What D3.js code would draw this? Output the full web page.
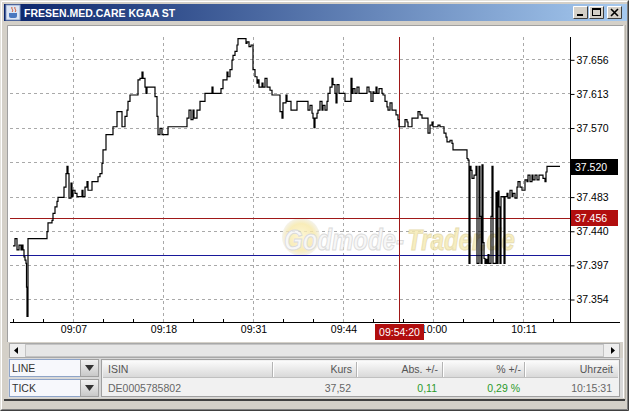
<!DOCTYPE html>
<html><head><meta charset="utf-8">
<script src="https://cdn.jsdelivr.net/npm/d3@7"></script>
<style>
html,body{margin:0;padding:0;background:#d4d0c8;overflow:hidden}
svg{display:block}
text{font-family:"Liberation Sans",Arial,sans-serif}
</style></head><body>
<svg id="c" width="629" height="411"></svg>
<script>
const title = "FRESEN.MED.CARE KGAA ST";
// tick-chart: x is the trade index, y the price
const tickIndex = [3,5,7,9,11,12,13,14,15,16,16.5,17,18,37,38,42,43,45,47,48,54,56,57,58,59,61,62,63,65,67,72,73,75,77,78,82,88,90,92,93,96,103,107,112,115,117,118,120,128,130,132,133,135,136,137,145,147,148,150,152,158,177,179,181,183,184,187,190,195,202,203,211,213,217,218,220,222,223,225,227,228,236,237,239,241,243,245,247,248,249,252,253,255,257,260,262,270,272,273,276,277,281,287,298,300,302,303,304,305,307,308,310,312,313,315,317,318,320,322,323,325,326,327,329,335,341,342,343,345,347,349,357,359,361,363,364,366,367,369,372,373,375,377,378,380,382,386,388,389,395,397,398,402,408,410,412,418,420,422,423,428,430,434,436,437,440,442,443,457,458,459,460,461,462,464,466,467,469,470,471,472,473,474,475,476,477,478,479,481,482,483,486,487,488,489,490,491,493,494,495,497,498,500,502,503,505,507,508,510,512,515,517,518,520,522,523,525,527,529,533,535,536,537,550];
const tickPrice = [37.421,37.430,37.416,37.422,37.416,37.422,37.416,37.407,37.403,37.399,37.369,37.332,37.430,37.439,37.450,37.453,37.462,37.470,37.477,37.482,37.495,37.512,37.521,37.512,37.481,37.500,37.483,37.491,37.487,37.483,37.491,37.483,37.495,37.502,37.491,37.502,37.508,37.512,37.525,37.542,37.561,37.571,37.590,37.571,37.584,37.592,37.603,37.611,37.630,37.632,37.640,37.632,37.621,37.613,37.621,37.609,37.584,37.561,37.569,37.561,37.571,37.582,37.592,37.580,37.592,37.582,37.592,37.603,37.613,37.621,37.613,37.619,37.630,37.640,37.634,37.643,37.655,37.661,37.666,37.674,37.682,37.676,37.678,37.672,37.674,37.643,37.634,37.626,37.630,37.621,37.626,37.621,37.632,37.621,37.617,37.611,37.590,37.582,37.601,37.611,37.603,37.592,37.603,37.592,37.598,37.588,37.582,37.570,37.582,37.588,37.592,37.603,37.592,37.598,37.592,37.603,37.613,37.621,37.632,37.624,37.613,37.601,37.624,37.613,37.603,37.632,37.613,37.619,37.613,37.621,37.613,37.621,37.615,37.603,37.615,37.613,37.621,37.613,37.619,37.613,37.611,37.603,37.596,37.592,37.601,37.592,37.586,37.580,37.571,37.580,37.577,37.571,37.582,37.590,37.586,37.582,37.563,37.573,37.577,37.571,37.573,37.571,37.563,37.558,37.552,37.554,37.550,37.542,37.531,37.529,37.399,37.521,37.516,37.506,37.510,37.521,37.399,37.521,37.458,37.399,37.523,37.425,37.405,37.399,37.404,37.399,37.410,37.399,37.458,37.521,37.399,37.488,37.399,37.490,37.470,37.399,37.483,37.483,37.399,37.483,37.487,37.481,37.491,37.483,37.487,37.481,37.495,37.502,37.495,37.491,37.504,37.502,37.510,37.502,37.510,37.504,37.510,37.504,37.510,37.506,37.502,37.514,37.521,37.521];
const yTickValues = [37.354,37.397,37.440,37.483,37.526,37.570,37.613,37.656];
const yTickLabels = ["37.354","37.397","37.440","37.483","37.526","37.570","37.613","37.656"];
const xTickIndex = [63,153,243,333,423,513];
const xTickLabels = ["09:07","09:18","09:31","09:44","10:00","10:11"];
const lastPrice = 37.520;
const lastPriceLabel = "37.520";
const markerLevel = 37.456;
const markerLabel = "37.456";
const prevClose = 37.410;
const cursorIndex = 389;
const cursorTime = "09:54:20";
const watermarkParts = ["Godmode-","Trader.de"];
const modeOptions = ["LINE","TICK"];
const tableHeaders = ["ISIN","Kurs","Abs. +/-","% +/-","Uhrzeit"];
const tableRow = ["DE0005785802","37,52","0,11","0,29 %","10:15:31"];

const svg = d3.select("#c");
const defs = svg.append("defs");
const tg = defs.append("linearGradient").attr("id","tb");
tg.append("stop").attr("offset","0").attr("stop-color","#0a246a");
tg.append("stop").attr("offset","1").attr("stop-color","#a6caf0");
const hg = defs.append("linearGradient").attr("id","hd").attr("x1",0).attr("y1",0).attr("x2",0).attr("y2",1);
hg.append("stop").attr("offset","0").attr("stop-color","#fbfbfb");
hg.append("stop").attr("offset","1").attr("stop-color","#d9d9d9");
const bg = defs.append("linearGradient").attr("id","btn").attr("x1",0).attr("y1",0).attr("x2",0).attr("y2",1);
bg.append("stop").attr("offset","0").attr("stop-color","#f2f2f2");
bg.append("stop").attr("offset","1").attr("stop-color","#c8c8c8");
const wg = defs.append("radialGradient").attr("id","wm");
wg.append("stop").attr("offset","0").attr("stop-color","#fff6cc");
wg.append("stop").attr("offset","0.7").attr("stop-color","#f7e8a8");
wg.append("stop").attr("offset","1").attr("stop-color","#f2f0e6");

// window frame
svg.append("rect").attr("x",0).attr("y",0).attr("width",629).attr("height",411).attr("fill","#d4d0c8");
svg.append("path").attr("d","M0.5,410.5V0.5H628.5").attr("fill","none").attr("stroke","#e4e2dc");
svg.append("path").attr("d","M1.5,409.5V1.5H627.5").attr("fill","none").attr("stroke","#ffffff");
svg.append("path").attr("d","M628.5,0.5V410.5H0.5").attr("fill","none").attr("stroke","#404040");
svg.append("path").attr("d","M627.5,1.5V409.5H1.5").attr("fill","none").attr("stroke","#808080");

// title bar
svg.append("rect").attr("x",4).attr("y",4).attr("width",623).attr("height",17).attr("fill","url(#tb)");
const ic = svg.append("g");
ic.append("rect").attr("x",6).attr("y",5).attr("width",14).attr("height",15).attr("fill","#dde6f4").attr("stroke","#8aa0c8");
ic.append("path").attr("d","M9,13h8v3a2,2 0 0 1 -2,2h-4a2,2 0 0 1 -2,-2z").attr("fill","#4a78c0");
ic.append("path").attr("d","M12,7c-1,2 2,3 0,5M15,7c-1,2 2,3 0,5").attr("fill","none").attr("stroke","#d04a20").attr("stroke-width",1);
svg.append("text").attr("x",24).attr("y",17).attr("fill","#ffffff").attr("font-weight","bold").attr("font-size","10.5px").text(title);
const btnX = [573,589,607];
btnX.forEach((bx,i)=>{
  const g = svg.append("g");
  g.append("rect").attr("x",bx).attr("y",6).attr("width",15).attr("height",13).attr("fill","#d4d0c8");
  g.append("path").attr("d",`M${bx+0.5},${18.5}V6.5H${bx+14.5}`).attr("fill","none").attr("stroke","#ffffff");
  g.append("path").attr("d",`M${bx+14.5},6.5V18.5H${bx+0.5}`).attr("fill","none").attr("stroke","#404040");
  if(i===0) g.append("rect").attr("x",bx+4).attr("y",14).attr("width",6).attr("height",2).attr("fill","#000");
  if(i===1){ g.append("rect").attr("x",bx+3.5).attr("y",8.5).attr("width",8).attr("height",7).attr("fill","none").attr("stroke","#000");
             g.append("rect").attr("x",bx+3).attr("y",8).attr("width",9).attr("height",2).attr("fill","#000"); }
  if(i===2) g.append("path").attr("d",`M${bx+4},9L${bx+11},16M${bx+11},9L${bx+4},16`).attr("stroke","#000").attr("stroke-width",1.6);
});

// client area
svg.append("rect").attr("x",8).attr("y",26).attr("width",615).attr("height",316).attr("fill","#ffffff");
svg.append("path").attr("d","M7.5,342V25.5H623.5").attr("fill","none").attr("stroke","#a0a0a0");
svg.append("path").attr("d","M623.5,25.5V398").attr("fill","none").attr("stroke","#ffffff");
svg.append("path").attr("d","M625.5,25V400").attr("fill","none").attr("stroke","#b8b4ac");

// scales
const x = d3.scaleLinear().domain([0,560]).range([10,570]);
const y = d3.scaleLinear().domain([37.354,37.656]).range([299,59.3]);
const plotTop = 37, plotBottom = 322;

// grid
const grid = svg.append("g").attr("stroke","#a9a9a9").attr("stroke-dasharray","3,3").attr("stroke-width",1);
yTickValues.forEach(v=>{
  const yy = Math.round(y(v))+0.5;
  grid.append("line").attr("x1",10).attr("x2",570).attr("y1",yy).attr("y2",yy);
});
xTickIndex.forEach(v=>{
  const xx = Math.round(x(v))+0.5;
  grid.append("line").attr("x1",xx).attr("x2",xx).attr("y1",plotTop).attr("y2",plotBottom);
});

// watermark
const wm = svg.append("g").attr("opacity",0.8);
wm.append("circle").attr("cx",301).attr("cy",237).attr("r",19).attr("fill","url(#wm)");
const wmg = wm.append("g").attr("transform","translate(284,250) scale(0.8,1)");
const w1 = wmg.append("text").attr("x",0).attr("y",0).attr("font-size","30px").attr("font-weight","bold").attr("font-style","italic")
  .attr("stroke-width",1).attr("fill","#f6f6f6").attr("stroke","#d2d2d2").text(watermarkParts[0]);
const w1len = w1.node().getComputedTextLength();
wmg.append("text").attr("x",w1len+4).attr("y",0).attr("font-size","30px").attr("font-weight","bold").attr("font-style","italic")
  .attr("stroke-width",1).attr("fill","#f6eab0").attr("stroke","#e2d6a0").text(watermarkParts[1]);

// reference lines
svg.append("line").attr("x1",10).attr("x2",570).attr("y1",Math.round(y(markerLevel))+0.5).attr("y2",Math.round(y(markerLevel))+0.5).attr("stroke","#a01818");
svg.append("line").attr("x1",10).attr("x2",570).attr("y1",Math.round(y(prevClose))+0.5).attr("y2",Math.round(y(prevClose))+0.5).attr("stroke","#18189a");
svg.append("line").attr("x1",Math.round(x(cursorIndex))+0.5).attr("x2",Math.round(x(cursorIndex))+0.5).attr("y1",plotTop).attr("y2",plotBottom).attr("stroke","#a01818");

// price line
const data = tickIndex.map((t,i)=>({t, p:tickPrice[i]}));
const line = d3.line().x(d=>x(d.t)).y(d=>y(d.p)).curve(d3.curveStepAfter);
svg.append("path").datum(data).attr("d",line).attr("fill","none").attr("stroke","#000").attr("stroke-width",1.2);

// axes lines
svg.append("line").attr("x1",10).attr("x2",620).attr("y1",plotBottom+0.5).attr("y2",plotBottom+0.5).attr("stroke","#000");
svg.append("line").attr("x1",570.5).attr("x2",570.5).attr("y1",plotTop).attr("y2",plotBottom).attr("stroke","#000");

// minor ticks on x axis
const minor = d3.range(3,560,30).filter(v=>!xTickIndex.includes(v));
svg.append("g").selectAll("line").data(minor).join("line")
  .attr("x1",d=>Math.round(x(d))+0.5).attr("x2",d=>Math.round(x(d))+0.5)
  .attr("y1",plotBottom-3).attr("y2",plotBottom+1).attr("stroke","#000");

// y axis
const lastY = y(lastPrice);
const yAxis = d3.axisRight(y).tickValues(yTickValues).tickSize(4).tickPadding(2)
  .tickFormat((d,i)=>yTickLabels[i]);
const ya = svg.append("g").attr("transform","translate(570.5,0.5)").call(yAxis);
ya.select(".domain").remove();
ya.selectAll("text").attr("font-size","10.5px").attr("fill","#000").style("font-family","'Liberation Sans',Arial,sans-serif")
  .attr("display",d=>Math.abs(y(d)-lastY)<10?"none":null);

// x axis
const xAxis = d3.axisBottom(x).tickValues(xTickIndex).tickSize(0).tickPadding(4)
  .tickFormat((d,i)=>xTickLabels[i]);
const xa = svg.append("g").attr("transform","translate(0.5,322)").call(xAxis);
xa.select(".domain").remove();
xa.selectAll("text").attr("font-size","10.5px").attr("fill","#000").style("font-family","'Liberation Sans',Arial,sans-serif");

// value boxes
function box(cx0, cy, w, color, label, anchor){
  svg.append("rect").attr("x",cx0).attr("y",Math.round(cy)-8).attr("width",w).attr("height",16).attr("fill",color);
  svg.append("text").attr("x",anchor==="middle"?cx0+w/2:cx0+4).attr("y",Math.round(cy)+4)
    .attr("text-anchor",anchor).attr("fill","#fff").attr("font-size","10.5px").text(label);
}
box(571, lastY, 47, "#000000", lastPriceLabel, "start");
box(571, y(markerLevel), 47, "#b10e0e", markerLabel, "start");
box(Math.round(x(cursorIndex))-24, 331.5, 49, "#b10e0e", cursorTime, "middle");

// scrollbar
svg.append("rect").attr("x",9.5).attr("y",343.5).attr("width",610).attr("height",14).attr("fill","#eeeeee").attr("stroke","#a8a8a8");
svg.append("rect").attr("x",25.5).attr("y",344.5).attr("width",578).attr("height",12).attr("fill","#e6e6e6").attr("stroke","#c4c4c4");
svg.append("path").attr("d","M18,347L14,350.5L18,354Z").attr("fill","#000");
svg.append("path").attr("d","M611,347L615,350.5L611,354Z").attr("fill","#000");

// bottom panel
svg.append("rect").attr("x",8).attr("y",358).attr("width",615).attr("height",40).attr("fill","#d8d8d8");
modeOptions.forEach((m,i)=>{
  const yy = 359 + i*20;
  svg.append("rect").attr("x",9.5).attr("y",yy+0.5).attr("width",71).attr("height",17).attr("fill","#f7f8fc").attr("stroke","#8ea4c8");
  svg.append("rect").attr("x",80.5).attr("y",yy+0.5).attr("width",18).attr("height",17).attr("fill","url(#btn)").attr("stroke","#a0a0a0");
  svg.append("path").attr("d",`M85,${yy+6}H94L89.5,${yy+12}Z`).attr("fill","#333");
  svg.append("text").attr("x",12).attr("y",yy+13).attr("font-size","10.5px").attr("fill","#333").text(m);
});
// table
svg.append("rect").attr("x",101.5).attr("y",359.5).attr("width",518).attr("height",37).attr("fill","#f1f1f1").attr("stroke","#a0a0a0");
svg.append("rect").attr("x",103).attr("y",361).attr("width",515).attr("height",16).attr("fill","url(#hd)");
const colRight = [null,352,438,521,613];
const colDiv = [272,356,442,524];
colDiv.forEach(cx=>{
  svg.append("line").attr("x1",cx+0.5).attr("x2",cx+0.5).attr("y1",362).attr("y2",377).attr("stroke","#b4b4b4");
  svg.append("line").attr("x1",cx+1.5).attr("x2",cx+1.5).attr("y1",362).attr("y2",377).attr("stroke","#ffffff");
});
svg.append("line").attr("x1",103).attr("x2",618).attr("y1",377.5).attr("y2",377.5).attr("stroke","#c0c0c0");
const rowColors = ["#666","#666","#2a9a2a","#2a9a2a","#666"];
tableHeaders.forEach((h,i)=>{
  svg.append("text").attr("x",i===0?108:colRight[i]).attr("y",373).attr("text-anchor",i===0?"start":"end")
    .attr("font-size","10.5px").attr("fill","#555").text(h);
  svg.append("text").attr("x",i===0?108:colRight[i]-1).attr("y",392).attr("text-anchor",i===0?"start":"end")
    .attr("font-size","10.5px").attr("fill",rowColors[i]).text(tableRow[i]);
});
svg.append("rect").attr("x",4).attr("y",399).attr("width",621).attr("height",2).attr("fill","#404040");
</script></body></html>
